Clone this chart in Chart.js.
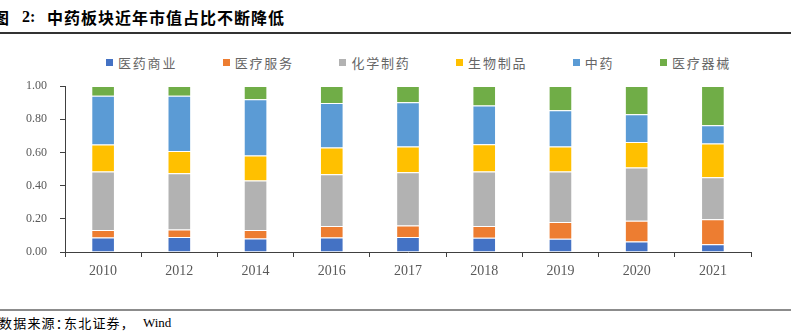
<!DOCTYPE html>
<html>
<head>
<meta charset="utf-8">
<script src="https://cdn.jsdelivr.net/npm/chart.js@4.4.1/dist/chart.umd.min.js"></script>
<style>
  html, body { margin: 0; padding: 0; background: #fff; }
  body { width: 806px; height: 333px; position: relative; overflow: hidden; }
  .cjk { font-family: "Noto Sans CJK SC", sans-serif; }
  .serif { font-family: "Liberation Serif", "Times New Roman", serif; }
  #title span { position: absolute; top: 8px; font-size: 16px; font-weight: 700; color: #000; line-height: 18px; white-space: nowrap; }
  #titleRule { position: absolute; left: 0; top: 32px; width: 791px; height: 2px; background: #333; }
  #legend { position: absolute; left: 106px; top: 54px; display: flex; gap: 45.5px; }
  .item { display: flex; align-items: center; font-size: 13px; color: #666; letter-spacing: 1.8px; line-height: 17px; white-space: nowrap; }
  .swatch { width: 7px; height: 7px; margin-right: 5px; }
  #chartBox { position: absolute; left: 0; top: 75px; width: 806px; height: 215px; }
  #footRule { position: absolute; left: 0; top: 309px; width: 791px; height: 2px; background: #8c8c8c; }
  #foot span { position: absolute; top: 314px; font-size: 13px; color: #000; line-height: 17px; white-space: nowrap; }
</style>
</head>
<body>
<div id="title">
  <span class="cjk" style="left:-7px">图</span>
  <span class="serif" style="left:22px">2:</span>
  <span class="cjk" style="left:47px; letter-spacing:1px">中药板块近年市值占比不断降低</span>
</div>
<div id="titleRule"></div>
<div id="legend"></div>
<div id="chartBox"><canvas id="c" width="806" height="215"></canvas></div>
<div id="footRule"></div>
<div id="foot">
  <span class="cjk" style="left:-1px; letter-spacing:1.2px">数据来源：</span>
  <span class="cjk" style="left:64px; letter-spacing:1.2px">东北证券，</span>
  <span class="serif" style="left:143px">Wind</span>
</div>
<script>
// Years on the category axis
const categories = ['2010', '2012', '2014', '2016', '2017', '2018', '2019', '2020', '2021'];

// Market-value share of each pharma sub-sector
const yiyaoShangye  = [0.088, 0.090, 0.082, 0.088, 0.090, 0.086, 0.080, 0.064, 0.046]; // 医药商业
const yiliaoFuwu    = [0.044, 0.046, 0.050, 0.068, 0.070, 0.070, 0.100, 0.124, 0.152]; // 医疗服务
const huaxueZhiyao  = [0.353, 0.339, 0.299, 0.313, 0.321, 0.329, 0.305, 0.321, 0.253]; // 化学制药
const shengwuZhipin = [0.162, 0.134, 0.150, 0.160, 0.154, 0.164, 0.150, 0.154, 0.202]; // 生物制品
const zhongyao      = [0.295, 0.333, 0.339, 0.269, 0.267, 0.233, 0.219, 0.167, 0.111]; // 中药
const yiliaoQixie   = [0.058, 0.058, 0.080, 0.102, 0.098, 0.118, 0.146, 0.170, 0.236]; // 医疗器械

// Value-axis ticks
const yTicks = [0, 0.2, 0.4, 0.6, 0.8, 1.0];

const series = [
  { label: '医药商业', data: yiyaoShangye,  color: '#4472C4' },
  { label: '医疗服务', data: yiliaoFuwu,    color: '#ED7D31' },
  { label: '化学制药', data: huaxueZhiyao,  color: '#B2B2B2' },
  { label: '生物制品', data: shengwuZhipin, color: '#FFC000' },
  { label: '中药',     data: zhongyao,      color: '#5B9BD5' },
  { label: '医疗器械', data: yiliaoQixie,   color: '#70AD47' }
];

const axisColor = '#404040';
const labelColor = '#595959';

const chart = new Chart(document.getElementById('c'), {
  type: 'bar',
  data: {
    labels: categories,
    datasets: series.map(s => ({
      label: s.label,
      data: s.data,
      backgroundColor: s.color,
      borderColor: 'rgba(255,255,255,0.45)',
      borderWidth: 1,
      categoryPercentage: 1,
      barPercentage: 0.31
    }))
  },
  options: {
    responsive: false,
    devicePixelRatio: 1,
    animation: false,
    layout: { padding: { top: 11, right: 55, left: 0, bottom: 0 } },
    plugins: { legend: { display: false }, tooltip: { enabled: false } },
    scales: {
      x: {
        stacked: true,
        afterFit: s => { s.height = 38; },
        grid: { display: true, drawOnChartArea: false, offset: true, tickLength: 5, color: axisColor, lineWidth: 1 },
        border: { display: true, color: axisColor, width: 1 },
        ticks: {
          color: labelColor,
          padding: 6,
          maxRotation: 0,
          font: { family: '"Liberation Serif", "Times New Roman", serif', size: 14 }
        }
      },
      y: {
        stacked: true,
        min: 0,
        max: 1,
        afterFit: s => { s.width = 65; s.paddingTop = 0; s.paddingBottom = 0; },
        afterBuildTicks: s => { s.ticks = yTicks.map(v => ({ value: v })); },
        grid: { display: true, drawOnChartArea: false, tickLength: 5, color: axisColor, lineWidth: 1 },
        border: { display: true, color: axisColor, width: 1 },
        ticks: {
          color: labelColor,
          padding: 13,
          callback: v => Number(v).toFixed(2),
          font: { family: '"Liberation Serif", "Times New Roman", serif', size: 12 }
        }
      }
    }
  }
});

// Legend row built from the chart's datasets
const legend = document.getElementById('legend');
chart.data.datasets.forEach(ds => {
  const item = document.createElement('div');
  item.className = 'item cjk';
  const sw = document.createElement('span');
  sw.className = 'swatch';
  sw.style.background = ds.backgroundColor;
  const txt = document.createElement('span');
  txt.textContent = ds.label;
  item.appendChild(sw);
  item.appendChild(txt);
  legend.appendChild(item);
});
</script>
</body>
</html>
